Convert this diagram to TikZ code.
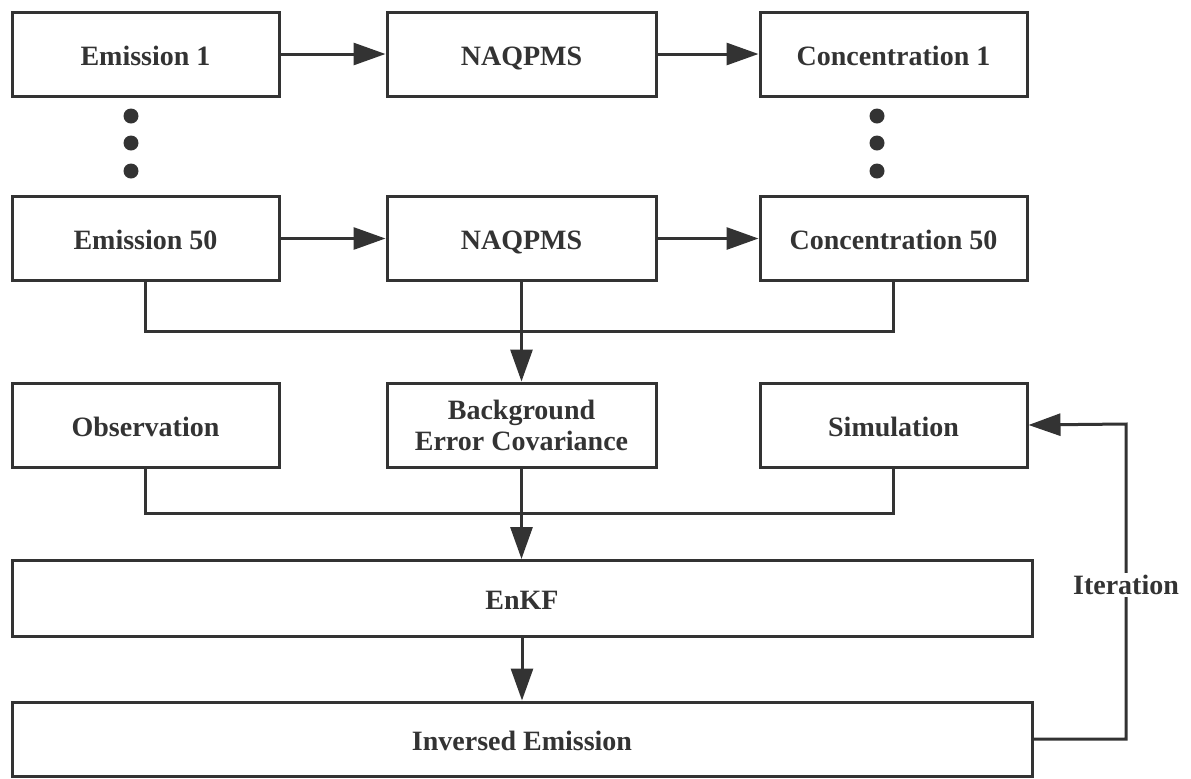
\documentclass[tikz,border=0pt]{standalone}
\usepackage{fontspec}
\setmainfont{Liberation Serif}[BoldFont={Liberation Serif Bold}]
\usetikzlibrary{arrows.meta,positioning}

\begin{document}
\begin{tikzpicture}[
  x=0.5pt, y=-0.5pt,
  box/.style={draw=black!80, line width=1.5pt, align=center, font=\bfseries\fontsize{14}{15.5}\selectfont, text=black!80, inner sep=2pt, text height=11pt, text depth=0pt, minimum width=133.5pt, minimum height=42pt},
  wide/.style={box, minimum width=510pt, minimum height=38pt},
  arr/.style={-{Triangle[length=16pt, width=11pt]}, line width=1.5pt, draw=black!80},
  conn/.style={line width=1.5pt, draw=black!80},
  dot/.style={circle, fill=black!80, inner sep=0pt, minimum size=7.5pt}
]
\useasboundingbox (0,0) rectangle (1191,778);
\node[box] (e1) at (145.5,54) {Emission 1};
\node[box, minimum width=134.5pt] (nq1) at (521.5,54) {NAQPMS};
\node[box] (c1) at (893.5,54) {Concentration 1};
\node[box] (e50) at (145.5,238.5) {Emission 50};
\node[box, minimum width=134.5pt] (nq2) at (521.5,238.5) {NAQPMS};
\node[box] (c50) at (893.5,238.5) {Concentration 50};
\node[box] (obs) at (145.5,425) {Observation};
\node[box, minimum width=134.5pt, text height=, text depth=] (bec) at (521.5,425) {Background\\Error Covariance};
\node[box] (sim) at (893.5,425) {Simulation};
\node[wide] (enkf) at (522,598.5) {EnKF};
\node[wide, minimum height=37pt] (inv) at (522,739) {Inversed Emission};
% ellipsis dots
\node[dot] (d1) at (131,116) {};
\node[dot] (d2) at (131,143) {};
\node[dot] (d3) at (131,171) {};
\node[dot] (d4) at (877,116) {};
\node[dot] (d5) at (877,143) {};
\node[dot] (d6) at (877,171) {};
\coordinate (m1) at (521.5,331);
\coordinate (m2) at (521.5,513);
\coordinate (it) at (1126,424);
\draw[arr] (e1)--(nq1);
\draw[arr] (nq1)--(c1);
\draw[arr] (e50)--(nq2);
\draw[arr] (nq2)--(c50);
\draw[conn] (e50.south) |- (m1) -| (c50.south);
\draw[arr] (nq2.south)--(bec.north);
\draw[conn] (obs.south) |- (m2) -| (sim.south);
\draw[arr] (bec.south)--(bec.south |- enkf.north);
\draw[arr] (enkf.south)--(enkf.south |- inv.north);
\draw[arr] (inv.east) -| (it) -- (sim.east);
\node[font=\bfseries\fontsize{14}{15.5}\selectfont, text=black!80, fill=white, inner sep=1pt] (iter) at (1126,585) {Iteration};
\end{tikzpicture}
\end{document}
